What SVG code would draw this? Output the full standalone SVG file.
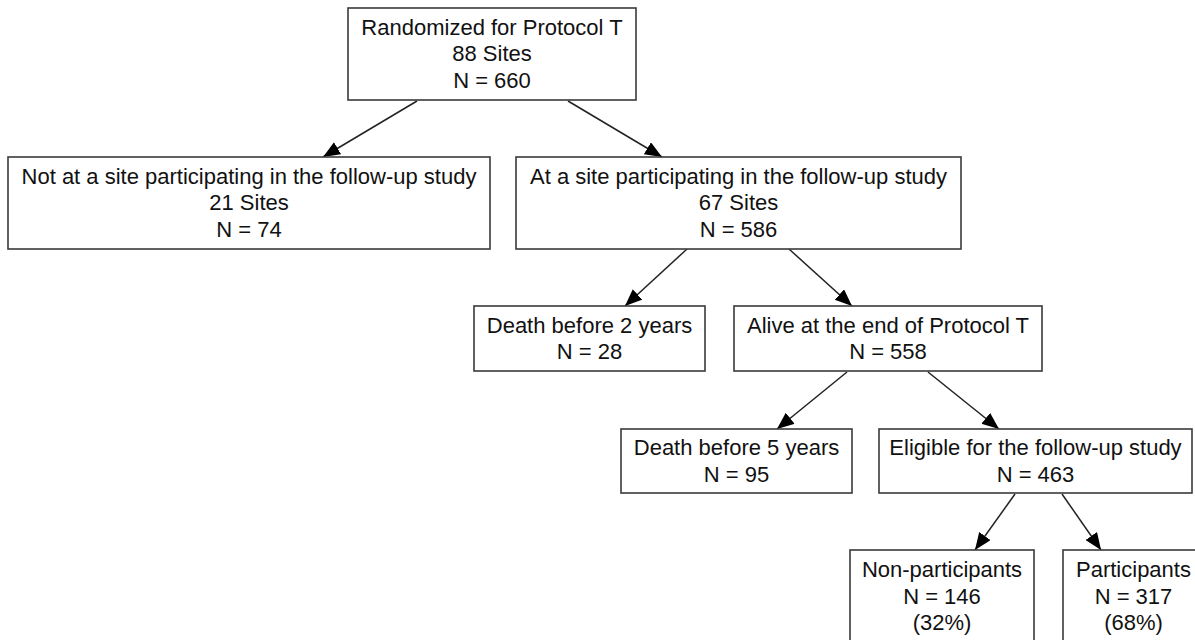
<svg xmlns="http://www.w3.org/2000/svg" width="1195" height="640" viewBox="0 0 1195 640">
<style>
.box{fill:#fff;stroke:#3a3a3a;stroke-width:1.6}
.t{font-family:"Liberation Sans",Arial,sans-serif;font-size:22px;fill:#111;text-anchor:middle}
.c{stroke:#222;stroke-width:1.5;fill:none;marker-end:url(#ah)}
</style>
<defs>
<marker id="ah" markerUnits="userSpaceOnUse" markerWidth="20" markerHeight="16" refX="17" refY="7" orient="auto">
<path d="M0,0 L17,7 L0,14 Z" fill="#000"/>
</marker>
</defs>
<rect width="1195" height="640" fill="#fff"/>
<g id="connectors">
<line class="c" x1="417" y1="101" x2="323" y2="157"/>
<line class="c" x1="568" y1="101" x2="662" y2="157"/>
<line class="c" x1="687" y1="249" x2="625" y2="306"/>
<line class="c" x1="789" y1="249" x2="852" y2="306"/>
<line class="c" x1="847" y1="372" x2="777" y2="429"/>
<line class="c" x1="928" y1="372" x2="999" y2="429"/>
<line class="c" x1="1015" y1="494" x2="975" y2="550"/>
<line class="c" x1="1062" y1="494" x2="1101" y2="550"/>
</g>
<g id="n_randomized">
<rect class="box" x="348" y="8" width="288" height="92"/>
<text class="t" x="492" y="34.5">Randomized for Protocol T</text>
<text class="t" x="492" y="61">88 Sites</text>
<text class="t" x="492" y="87.5">N = 660</text>
</g>
<g id="n_notsite">
<rect class="box" x="8" y="157" width="482" height="92"/>
<text class="t" x="249" y="183.5">Not at a site participating in the follow-up study</text>
<text class="t" x="249" y="210">21 Sites</text>
<text class="t" x="249" y="236.5">N = 74</text>
</g>
<g id="n_atsite">
<rect class="box" x="516" y="157" width="445" height="92"/>
<text class="t" x="738.5" y="183.5">At a site participating in the follow-up study</text>
<text class="t" x="738.5" y="210">67 Sites</text>
<text class="t" x="738.5" y="236.5">N = 586</text>
</g>
<g id="n_death2">
<rect class="box" x="474" y="306" width="231" height="65"/>
<text class="t" x="589.5" y="332.5">Death before 2 years</text>
<text class="t" x="589.5" y="359">N = 28</text>
</g>
<g id="n_alive">
<rect class="box" x="734" y="306" width="308" height="65"/>
<text class="t" x="888" y="332.5">Alive at the end of Protocol T</text>
<text class="t" x="888" y="359">N = 558</text>
</g>
<g id="n_death5">
<rect class="box" x="621" y="429" width="231" height="64"/>
<text class="t" x="736.5" y="455">Death before 5 years</text>
<text class="t" x="736.5" y="481.5">N = 95</text>
</g>
<g id="n_eligible">
<rect class="box" x="879" y="429" width="313" height="64"/>
<text class="t" x="1035.5" y="455">Eligible for the follow-up study</text>
<text class="t" x="1035.5" y="481.5">N = 463</text>
</g>
<g id="n_nonpart">
<rect class="box" x="850" y="550" width="184" height="100"/>
<text class="t" x="942" y="577">Non-participants</text>
<text class="t" x="942" y="603.5">N = 146</text>
<text class="t" x="942" y="630">(32%)</text>
</g>
<g id="n_part">
<rect class="box" x="1063" y="550" width="142" height="100"/>
<text class="t" x="1133.5" y="577">Participants</text>
<text class="t" x="1133.5" y="603.5">N = 317</text>
<text class="t" x="1133.5" y="630">(68%)</text>
</g>
</svg>
